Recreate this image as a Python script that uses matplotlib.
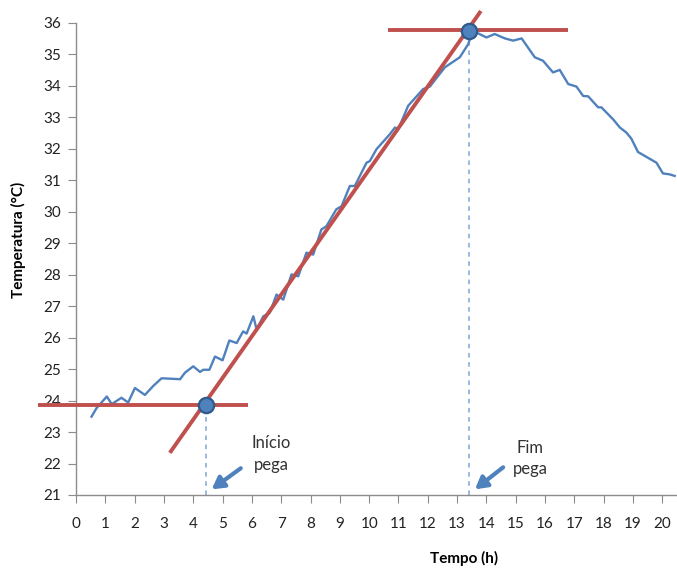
import matplotlib
matplotlib.use('Agg')
from matplotlib import pyplot as plt

# temperature curve
tempo = [0.53, 0.70, 1.05, 1.22, 1.55, 1.78, 2.01, 2.35, 2.64, 2.92,
         3.55, 3.72, 4.00, 4.23, 4.34, 4.55, 4.74, 5.00, 5.23, 5.48,
         5.70, 5.82, 6.05, 6.16, 6.39, 6.61, 6.84, 7.07, 7.35, 7.58,
         7.86, 8.09, 8.37, 8.54, 8.88, 9.06, 9.34, 9.51, 9.91, 10.02,
         10.25, 10.70, 10.88, 10.99, 11.33, 11.84, 12.07, 12.58, 13.09, 13.38,
         13.49, 13.72, 14.00, 14.28, 14.63, 14.91, 15.20, 15.65, 15.93, 16.27,
         16.50, 16.79, 17.07, 17.30, 17.47, 17.81, 17.92, 18.32, 18.55, 18.77,
         18.94, 19.17, 19.80, 20.02, 20.25, 20.42]
temperatura = [23.49, 23.76, 24.13, 23.89, 24.09, 23.94, 24.40, 24.18, 24.47, 24.71,
               24.68, 24.89, 25.09, 24.91, 24.98, 24.98, 25.40, 25.28, 25.91, 25.83,
               26.20, 26.13, 26.68, 26.26, 26.68, 26.79, 27.37, 27.21, 28.01, 27.95,
               28.70, 28.64, 29.44, 29.54, 30.08, 30.18, 30.82, 30.82, 31.56, 31.61,
               31.99, 32.46, 32.68, 32.62, 33.37, 33.90, 33.98, 34.59, 34.91, 35.33,
               35.65, 35.67, 35.54, 35.65, 35.51, 35.44, 35.51, 34.91, 34.80, 34.43,
               34.51, 34.06, 33.98, 33.68, 33.67, 33.32, 33.32, 32.94, 32.68, 32.52,
               32.33, 31.90, 31.56, 31.22, 31.19, 31.14]

# tangent construction lines
base_x, base_y = [-1.3, 5.86], [23.85, 23.85]
top_x, top_y = [10.64, 16.77], [35.78, 35.78]
slope_x, slope_y = [3.2, 13.81], [22.34, 36.38]

# setting points
pega_x = [4.43, 13.40]
pega_y = [23.87, 35.75]
labels = ['Início\npega', 'Fim\npega']
label_pos = [(6.65, 22.3), (15.5, 22.15)]
arrow_from = [(5.62, 21.85), (14.57, 21.88)]
arrow_to = [(4.63, 21.18), (13.61, 21.18)]

x_ticks = list(range(0, 21))
y_ticks = list(range(21, 37))

plt.rcParams['font.family'] = ['Lato', 'DejaVu Sans']

fig = plt.figure(figsize=(6.77, 5.69), dpi=100)
ax = fig.add_axes([76 / 677, 74 / 569, 601 / 677, 472 / 569])

blue = '#4F81BD'
red = '#C0504D'

ax.plot(tempo, temperatura, color=blue, lw=1.7, zorder=3)

for lx, ly in [(base_x, base_y), (top_x, top_y), (slope_x, slope_y)]:
    ax.plot(lx, ly, color=red, lw=2.8, solid_capstyle='butt', zorder=4, clip_on=False)

for px, py in zip(pega_x, pega_y):
    ax.plot([px, px], [21, py], color='#7FA6D6', lw=1.1, ls=(0, (3, 3)), zorder=2)

ax.plot(pega_x, pega_y, 'o', ms=11, mfc=blue, mec='#2F5A8C', mew=1.6, zorder=5, clip_on=False)

for txt, pos, a0, a1 in zip(labels, label_pos, arrow_from, arrow_to):
    ax.text(pos[0], pos[1], txt, ha='center', va='center', fontsize=12,
            color='#333333', linespacing=1.4)
    ax.annotate('', xy=a1, xytext=a0,
                arrowprops=dict(arrowstyle='-|>,head_length=0.7,head_width=0.4',
                                color=blue, lw=3, shrinkA=0, shrinkB=0))

ax.set_xlim(0, 20.5)
ax.set_ylim(21, 36)
ax.set_xticks(x_ticks)
ax.set_yticks(y_ticks)

for s in ['top', 'right']:
    ax.spines[s].set_visible(False)
for s in ['left', 'bottom']:
    ax.spines[s].set_color('#8C8C8C')
    ax.spines[s].set_linewidth(1.0)

ax.tick_params(axis='x', direction='out', length=6, color='#8C8C8C', pad=10,
               labelsize=11, labelcolor='#222222')
ax.tick_params(axis='y', direction='out', length=6, color='#8C8C8C', pad=5,
               labelsize=11, labelcolor='#222222')

fig.text(464 / 677, 1 - 558 / 569, 'Tempo (h)', ha='center', va='center',
         fontsize=11, fontweight='bold')
fig.text(18 / 677, 1 - 240 / 569, 'Temperatura (°C)', ha='center', va='center',
         rotation=90, fontsize=11, fontweight='bold')

fig.savefig('out.png', dpi=100)
